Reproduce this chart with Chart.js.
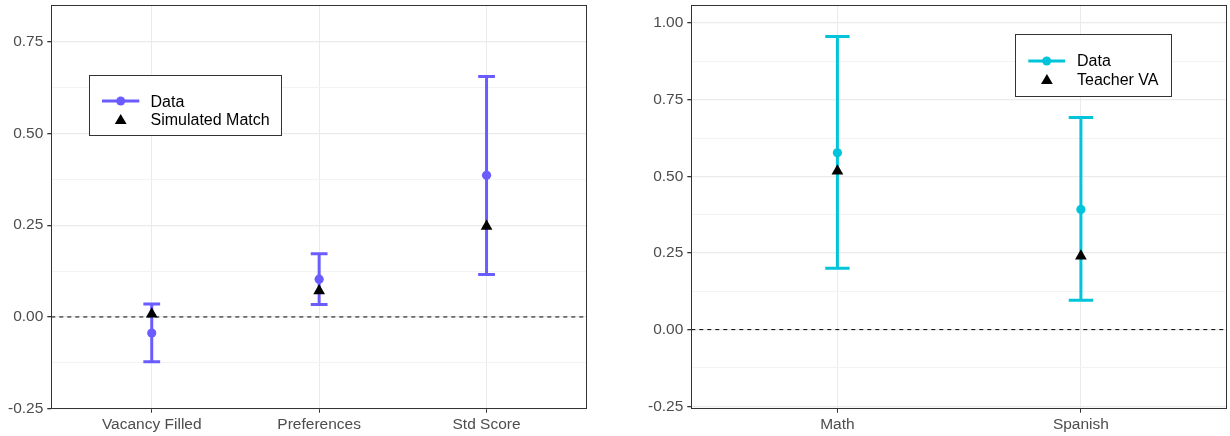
<!DOCTYPE html>
<html><head><meta charset="utf-8">
<script src="https://cdn.jsdelivr.net/npm/chart.js@4/dist/chart.umd.min.js"></script>
<style>
html,body{margin:0;padding:0;background:#fff;width:1230px;height:436px;overflow:hidden;position:relative;font-family:"Liberation Sans",Arial,sans-serif;}
.wrap{position:absolute;top:0;height:436px;}
#ov{position:absolute;left:0;top:0;pointer-events:none;}
</style></head><body>
<div class="wrap" style="left:0;width:600px"><canvas id="c1" width="600" height="436"></canvas></div>
<div class="wrap" style="left:640px;width:590px"><canvas id="c2" width="590" height="436"></canvas></div>
<svg id="ov" width="1230" height="436" xmlns="http://www.w3.org/2000/svg" font-family="Liberation Sans, Arial, sans-serif" font-size="16">
  <rect x="89.5" y="75.5" width="192" height="60" fill="#fff" stroke="#333" stroke-width="1"/>
  <line x1="102" y1="101" x2="139.3" y2="101" stroke="#6A5CFF" stroke-width="3"/>
  <circle cx="120.7" cy="101" r="4.5" fill="#6A5CFF"/>
  <polygon points="120.7,114 114.8,124 126.6,124" fill="#000"/>
  <text x="150.5" y="106.8" fill="#000">Data</text>
  <text x="150.5" y="125.2" fill="#000">Simulated Match</text>

  <rect x="1015.5" y="34.5" width="156" height="62" fill="#fff" stroke="#333" stroke-width="1"/>
  <line x1="1028.3" y1="61" x2="1065" y2="61" stroke="#00C4DA" stroke-width="3"/>
  <circle cx="1046.7" cy="61" r="4.5" fill="#00C4DA"/>
  <polygon points="1046.9,74 1041,84 1052.8,84" fill="#000"/>
  <text x="1077" y="66.2" fill="#000">Data</text>
  <text x="1077" y="85" fill="#000">Teacher VA</text>
</svg>
<script>
// ---- Left panel data ----
const leftCats  = ["Vacancy Filled", "Preferences", "Std Score"];
const leftData  = [-0.044, 0.103, 0.386];
const leftLow   = [-0.122, 0.034, 0.116];
const leftHigh  = [0.035, 0.172, 0.655];
const leftSim   = [0.008, 0.071, 0.247];
const leftYTicks = [-0.25, -0.125, 0, 0.125, 0.25, 0.375, 0.5, 0.625, 0.75];
const leftYRange = [-0.25, 0.85];

// ---- Right panel data ----
const rightCats  = ["Math", "Spanish"];
const rightData  = [0.577, 0.392];
const rightLow   = [0.200, 0.096];
const rightHigh  = [0.956, 0.692];
const rightVA    = [0.517, 0.240];
const rightYTicks = [-0.25, -0.125, 0, 0.125, 0.25, 0.375, 0.5, 0.625, 0.75, 0.875, 1.0];
const rightYRange = [-0.258, 1.059];

const FONT = { family: '"Liberation Sans", Arial, sans-serif', size: 15.5 };
const isMajor = v => Math.abs(v / 0.25 - Math.round(v / 0.25)) < 1e-6;

const borderPlugin = {
  id: 'panelBorder',
  afterDraw(chart) {
    const { ctx, chartArea: a } = chart;
    ctx.save();
    ctx.strokeStyle = '#333333';
    ctx.lineWidth = 1;
    const l = Math.round(a.left) + 0.5, t = Math.round(a.top) + 0.5;
    const r = Math.round(a.right) - 0.5, b = Math.round(a.bottom) - 0.5;
    ctx.strokeRect(l, t, r - l, b - t);
    ctx.restore();
  }
};

function makeChart(id, cats, data, low, high, sim, yTicks, yRange, color, capR, padRight) {
  const xRange = [0.4, cats.length + 0.6];
  const pts = arr => arr.map((v, i) => ({ x: i + 1, y: v }));
  const stems = [];
  cats.forEach((c, i) => {
    stems.push({ x: i + 1, y: low[i] }, { x: i + 1, y: high[i] }, { x: i + 1, y: null });
  });
  const caps = pts(low).concat(pts(high));
  new Chart(document.getElementById(id), {
    type: 'scatter',
    data: {
      datasets: [
        { data: pts(sim), pointStyle: 'triangle', pointRadius: 6.8, backgroundColor: '#000', borderColor: '#000', borderWidth: 0, showLine: false },
        { data: pts(data), pointStyle: 'circle', pointRadius: 4.6, backgroundColor: color, borderColor: color, borderWidth: 0, showLine: false },
        { data: caps, pointStyle: 'line', pointRadius: capR, borderColor: color, backgroundColor: color, borderWidth: 3, showLine: false },
        { data: stems, showLine: true, spanGaps: false, pointRadius: 0, borderColor: color, borderWidth: 3 },
        { data: [{ x: xRange[0], y: 0 }, { x: xRange[1], y: 0 }], showLine: true, pointRadius: 0, borderColor: '#000', borderWidth: 1, borderDash: [4, 4] }
      ]
    },
    options: {
      responsive: false,
      animation: false,
      devicePixelRatio: 1,
      events: [],
      layout: { autoPadding: false, padding: { top: 5, right: padRight, left: 0, bottom: 0 } },
      plugins: { legend: { display: false }, tooltip: { enabled: false } },
      scales: {
        x: {
          type: 'linear', min: xRange[0], max: xRange[1],
          afterBuildTicks: s => { s.ticks = cats.map((c, i) => ({ value: i + 1 })); },
          afterFit: s => { s.height = 27.3; s.paddingLeft = 0; s.paddingRight = 0; },
          ticks: { autoSkip: false, maxRotation: 0, font: FONT, color: '#4D4D4D', padding: 3,
                   callback: (v, i) => cats[i] },
          grid: { color: '#EBEBEB', lineWidth: 1, tickLength: 4, tickColor: '#333333' },
          border: { display: false }
        },
        y: {
          type: 'linear', min: yRange[0], max: yRange[1],
          afterBuildTicks: s => { s.ticks = yTicks.map(v => ({ value: v })); },
          afterFit: s => { s.width = 51.3; s.paddingTop = 0; s.paddingBottom = 0; },
          ticks: { autoSkip: false, font: FONT, color: '#4D4D4D', padding: 4,
                   callback: v => isMajor(v) ? v.toFixed(2) : '' },
          grid: {
            color: ctx => isMajor(ctx.tick.value) ? '#EBEBEB' : '#F3F3F3',
            lineWidth: ctx => isMajor(ctx.tick.value) ? 1.3 : 1,
            tickLength: 4,
            tickColor: ctx => isMajor(ctx.tick.value) ? '#333333' : 'rgba(0,0,0,0)'
          },
          border: { display: false }
        }
      }
    },
    plugins: [borderPlugin]
  });
}

makeChart('c1', leftCats, leftData, leftLow, leftHigh, leftSim, leftYTicks, leftYRange, '#6A5CFF', 8.4, 13);
makeChart('c2', rightCats, rightData, rightLow, rightHigh, rightVA, rightYTicks, rightYRange, '#00C4DA', 12.2, 3);
</script>
</body></html>
